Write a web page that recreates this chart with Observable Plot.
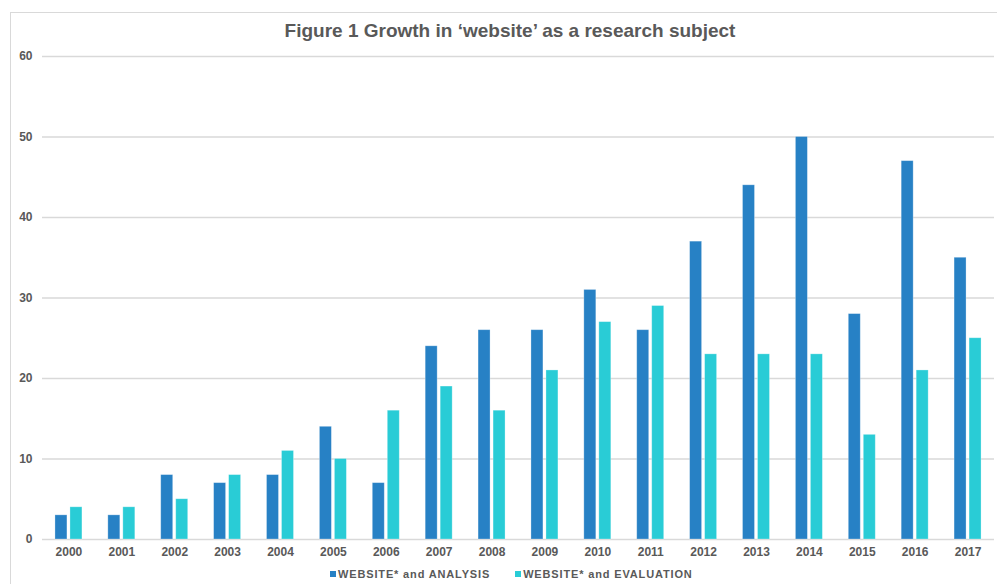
<!DOCTYPE html>
<html>
<head>
<meta charset="utf-8">
<script src="https://cdn.jsdelivr.net/npm/d3@7"></script>
<script src="https://cdn.jsdelivr.net/npm/@observablehq/plot@0.6"></script>
<style>
  html, body { margin: 0; padding: 0; background: #fff; }
  #wrap { position: relative; width: 997px; height: 584px; overflow: hidden; font-family: "Liberation Sans", Arial, sans-serif; }
  #frame { position: absolute; left: 10px; top: 12px; width: 1000px; height: 600px; border-left: 1px solid #d9d9d9; border-top: 1px solid #d9d9d9; }
  #title { position: relative; height: 23px; line-height: 20px; padding-top: 21px; text-align: center; padding-left: 23px; font-weight: bold; font-size: 19px; color: #595959; }
  #chart { position: relative; height: 520px; }
  #legend { position: relative; height: 20px; display: flex; gap: 25px; padding-left: 330px; font-size: 11px; font-weight: bold; color: #595959; letter-spacing: 0.85px; align-items: center; }
  .sw { display: inline-block; width: 6px; height: 6px; margin-right: 2px; vertical-align: middle; position: relative; top: -1px; }
</style>
</head>
<body>
<div id="wrap">
  <div id="frame"></div>
  <div id="title">Figure 1 Growth in ‘website’ as a research subject</div>
  <div id="chart"></div>
  <div id="legend"></div>
</div>
<script>
const years = ["2000","2001","2002","2003","2004","2005","2006","2007","2008","2009","2010","2011","2012","2013","2014","2015","2016","2017"];
const analysis = [3,3,8,7,8,14,7,24,26,26,31,26,37,44,50,28,47,35];
const evaluation = [4,4,5,8,11,10,16,19,16,21,27,29,23,23,23,13,21,25];
const seriesNames = ["WEBSITE* and ANALYSIS", "WEBSITE* and EVALUATION"];
const colors = ["#2781C5", "#29CCD6"];
const yTicks = [0,10,20,30,40,50,60];

const dataA = years.map((y, i) => ({year: y, value: analysis[i], series: seriesNames[0]}));
const dataE = years.map((y, i) => ({year: y, value: evaluation[i], series: seriesNames[1]}));

const plot = Plot.plot({
  width: 997,
  height: 520,
  marginTop: 12,
  marginBottom: 25,
  marginLeft: 42,
  marginRight: 3,
  style: { fontFamily: "Liberation Sans, Arial, sans-serif", fontSize: "12px", fontWeight: "bold", color: "#595959", background: "transparent" },
  x: { domain: years, paddingInner: 0.49, paddingOuter: 0.245, round: false, label: null },
  y: { domain: [0, 60], label: null },
  color: { domain: seriesNames, range: colors },
  marks: [
    Plot.gridY(yTicks, { stroke: "#d9d9d9", strokeOpacity: 1, strokeWidth: 1.5 }),
    Plot.axisY(yTicks, { tickSize: 0, tickPadding: 10, label: null, fill: "#595959" }),
    Plot.axisX({ tickSize: 0, tickPadding: 8, label: null, fill: "#595959" }),
    Plot.barY(dataA, { x: "year", y: "value", fill: "series", insetRight: 15, insetLeft: 0, stroke: "#ffffff", strokeOpacity: 0.35, strokeWidth: 0.8 }),
    Plot.barY(dataE, { x: "year", y: "value", fill: "series", insetLeft: 15, insetRight: 0, stroke: "#ffffff", strokeOpacity: 0.35, strokeWidth: 0.8 })
  ]
});
document.getElementById("chart").appendChild(plot);

const legend = document.getElementById("legend");
seriesNames.forEach((name, i) => {
  const item = document.createElement("span");
  const sw = document.createElement("span");
  sw.className = "sw";
  sw.style.background = colors[i];
  item.appendChild(sw);
  item.appendChild(document.createTextNode(name));
  legend.appendChild(item);
});
</script>
</body>
</html>
